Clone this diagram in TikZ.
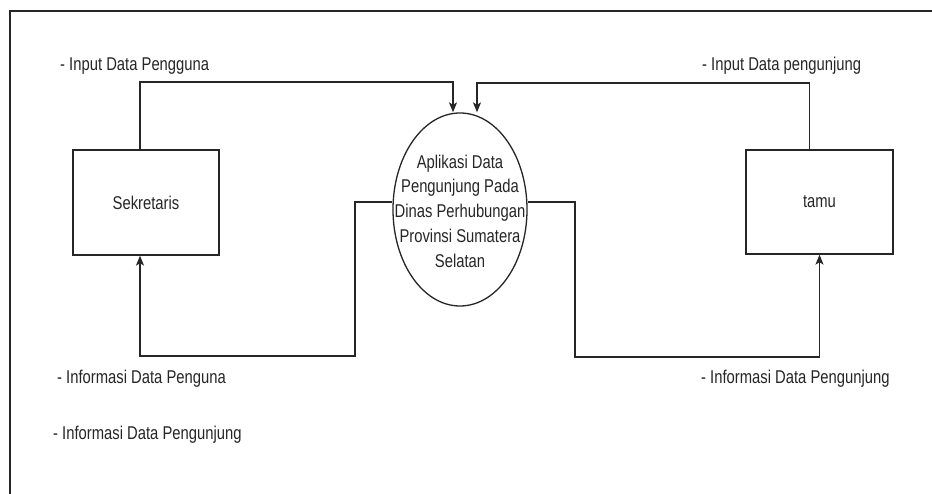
\documentclass[tikz,border=0pt]{standalone}
\usepackage{fontspec}
\setmainfont{Liberation Sans}[FakeStretch=0.8]
\usetikzlibrary{arrows.meta,shapes.geometric}
\tikzset{
  basefont/.style={font=\fontsize{18.5}{24.8}\selectfont, text=black!85},
  entity/.style={draw=black!85, line width=1.3pt, minimum width=146pt, minimum height=105pt, inner sep=0pt, basefont},
  process/.style={draw=black!85, line width=1.3pt, ellipse, minimum width=134pt, minimum height=193pt, inner sep=0pt},
  proctext/.style={inner sep=0pt, align=center, basefont},
  flow/.style={draw=black!85, line width=1.3pt, -{Stealth[length=10pt,width=8pt,inset=2.5pt]}},
  flowlabel/.style={anchor=base west, inner sep=0pt, basefont},
  frameline/.style={draw=black!85, line width=1.3pt}
}
\begin{document}
\begin{tikzpicture}[x=1pt,y=-1pt]
\useasboundingbox (0,0) rectangle (932,494);
\fill[white] (0,0) rectangle (932,494);
\draw[frameline] (932,11) -- (10,11) -- (10,494);

\node[entity] (sek) at (146,202.5) {Sekretaris};
\node[entity, minimum width=147pt, minimum height=104pt] (tamu) at (819.5,202) {tamu};
\node[process] (app) at (460,209.5) {};
\node[proctext] (apptext) at (460,211) {Aplikasi Data\\Pengunjung Pada\\Dinas Perhubungan\\Provinsi Sumatera\\Selatan};

\coordinate (a1) at (453,82);
\coordinate (a2) at (477,83);
\coordinate (l1) at (355,356);
\coordinate (r1) at (575,357);

\draw[flow] ([xshift=-6pt]sek.north) |- (a1) -- (a1 |- app.north);
\draw[flow] ([xshift=-10pt]tamu.north) |- (a2) -- (a2 |- app.north);
\draw[flow] ([yshift=7.5pt]app.west) -| (l1) -| ([xshift=-6pt]sek.south);
\draw[flow] ([yshift=7.5pt]app.east) -| (r1) -| (tamu.south);

\node[flowlabel] (l_in_peng) at (60,70.5) {- Input Data Pengguna};
\node[flowlabel] (l_in_pengunj) at (702,70.5) {- Input Data pengunjung};
\node[flowlabel] (l_inf_peng) at (57,384) {- Informasi Data Penguna};
\node[flowlabel] (l_inf_pengunj) at (53,439) {- Informasi Data Pengunjung};
\node[flowlabel] (r_inf_pengunj) at (701,384) {- Informasi Data Pengunjung};
\end{tikzpicture}
\end{document}
